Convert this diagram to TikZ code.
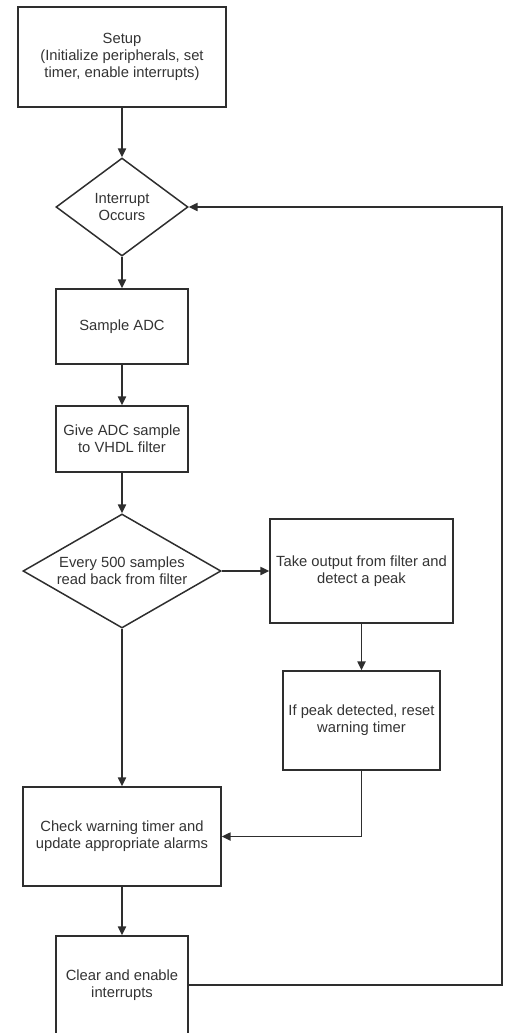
\documentclass[tikz,border=0pt]{standalone}
\usepackage{fontspec}
\setmainfont{Liberation Sans}
\usetikzlibrary{shapes.geometric,arrows.meta}
\definecolor{ln}{HTML}{2E2E2E}
\definecolor{tx}{HTML}{333333}
\begin{document}
\begin{tikzpicture}[x=0.02cm,y=-0.02cm,
  base/.style={draw=ln,line width=0.85pt,text=tx,font=\fontsize{8.4}{9.6}\selectfont,align=center,inner sep=0pt},
  box/.style={base,rectangle},
  dia/.style={base,diamond,shape aspect=1},
  lbl/.style={text=tx,font=\fontsize{8.4}{9.6}\selectfont,align=center,inner sep=0pt},
  arr/.style={draw=ln,line width=0.85pt,-{Triangle[length=5pt,width=4.6pt]}}]
\useasboundingbox (0,0) rectangle (506,1034);
\clip (-2,-2) rectangle (508,1032.6);
\node[box,minimum width=208*0.02cm,minimum height=100*0.02cm] (setup) at (122,57)
  {Setup\\(Initialize peripherals, set\\timer, enable interrupts)};
\node[dia,minimum width=132*0.02cm,minimum height=98*0.02cm] (int) at (122,207) {};
\node[lbl] (intt) at (int) {Interrupt\\Occurs};
\node[box,minimum width=132*0.02cm,minimum height=75*0.02cm] (sample) at (122,326.5)
  {Sample ADC};
\node[box,minimum width=132*0.02cm,minimum height=66*0.02cm] (give) at (122,439)
  {Give ADC sample\\to VHDL filter};
\node[dia,minimum width=198*0.02cm,minimum height=114*0.02cm] (every) at (122,571) {};
\node[lbl] (everyt) at (every) {Every 500 samples\\read back from filter};
\node[box,minimum width=183*0.02cm,minimum height=104*0.02cm] (take) at (361.5,571)
  {Take output from filter and\\detect a peak};
\node[box,minimum width=157*0.02cm,minimum height=99*0.02cm] (peak) at (361.5,720.5)
  {If peak detected, reset\\warning timer};
\node[box,minimum width=198*0.02cm,minimum height=99*0.02cm] (check) at (122,836.5)
  {Check warning timer and\\update appropriate alarms};
\node[box,minimum width=132*0.02cm,minimum height=98*0.02cm] (clear) at (122,985)
  {Clear and enable\\interrupts};
\coordinate (rb) at (502,985);
\draw[arr] (setup) -- (int);
\draw[arr] (int) -- (sample);
\draw[arr] (sample) -- (give);
\draw[arr] (give) -- (every);
\draw[arr] (every) -- (take);
\draw[arr] (take) -- (peak);
\draw[arr] (every) -- (check);
\draw[arr] (peak.south) |- (check.east);
\draw[arr] (check) -- (clear);
\draw[arr] (clear.east) -- (rb) |- (int.east);
\end{tikzpicture}
\end{document}
